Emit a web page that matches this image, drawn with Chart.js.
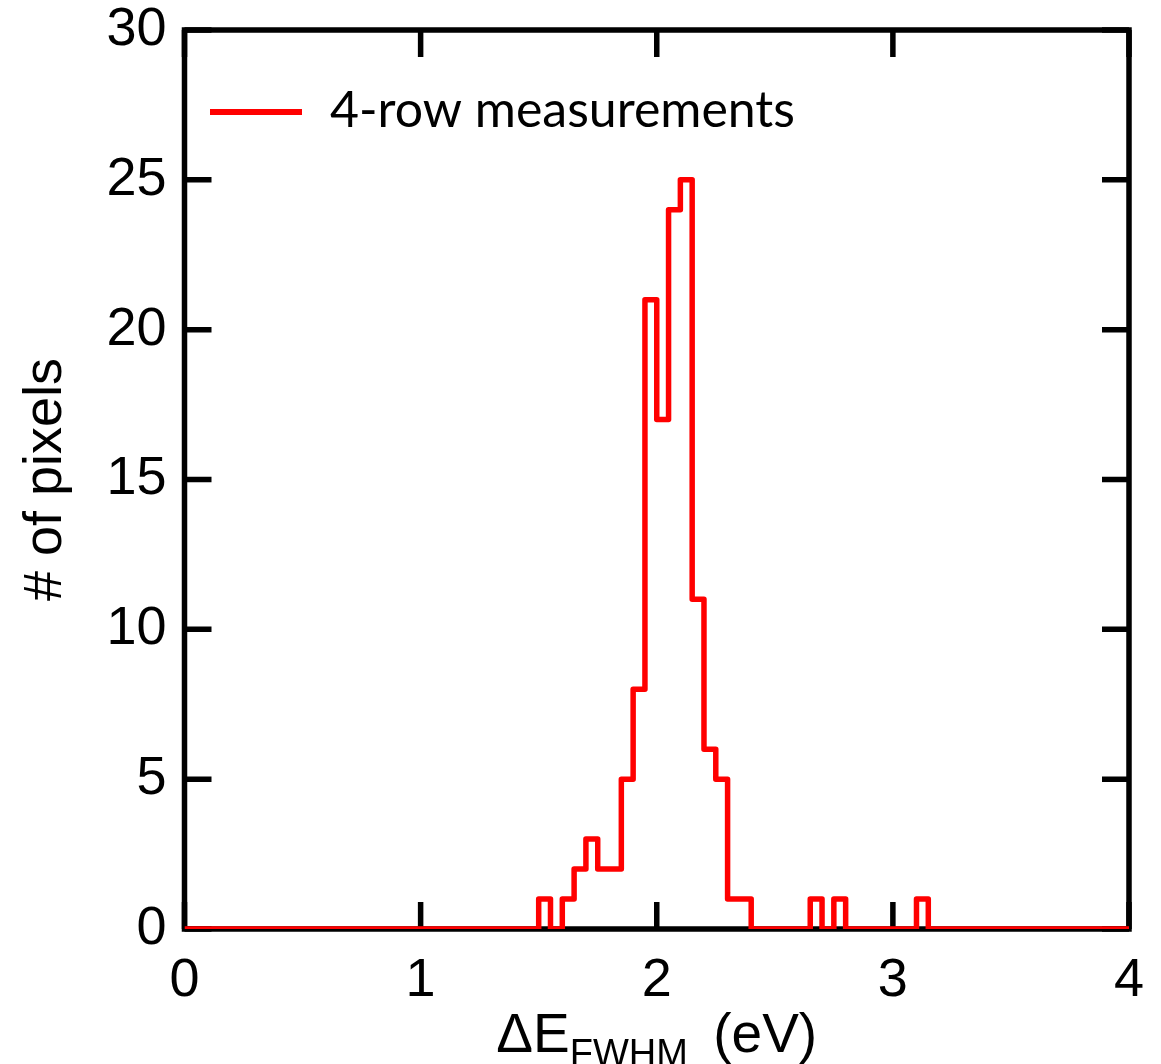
<!DOCTYPE html>
<html>
<head>
<meta charset="utf-8">
<script src="https://cdn.jsdelivr.net/npm/chart.js@4.4.1/dist/chart.umd.min.js"></script>
<style>
  html, body { margin: 0; padding: 0; background: #ffffff; }
  #wrap { width: 1161px; height: 1064px; }
</style>
</head>
<body>
<div id="wrap"><canvas id="c" width="1161" height="1064"></canvas></div>
<script>
// Histogram step points: left edge of each run of equal bins (eV) and the count held from that edge
const binStarts = [0.00, 1.50, 1.55, 1.60, 1.65, 1.70, 1.75, 1.85, 1.90, 1.95, 2.00, 2.05, 2.10, 2.15, 2.20, 2.25, 2.30, 2.40, 2.65, 2.70, 2.75, 2.80, 3.10, 3.15, 4.00];
const pixelCounts = [0, 1, 0, 1, 2, 3, 2, 5, 8, 21, 17, 24, 25, 11, 6, 5, 1, 0, 1, 0, 1, 0, 1, 0, 0];
const seriesLabel = '4-row measurements';
const xTickValues = [0, 1, 2, 3, 4];
const yTickValues = [0, 5, 10, 15, 20, 25, 30];
const yTitle = '# of pixels';
const xTitleMain = 'ΔE';
const xTitleSub = 'FWHM';
const xTitleUnit = ' (eV)';

const RED = '#ff0000';
const FONT = '"Liberation Sans", Arial, sans-serif';

const framePlugin = {
  id: 'frame',
  beforeDatasetsDraw(chart) {
    const {ctx, chartArea: a, scales} = chart;
    ctx.save();
    ctx.strokeStyle = '#000';
    ctx.lineWidth = 5.5;
    ctx.lineCap = 'butt';
    ctx.lineJoin = 'miter';
    ctx.strokeRect(a.left, a.top, a.right - a.left, a.bottom - a.top);
    const tl = 27;
    ctx.beginPath();
    xTickValues.forEach(v => {
      const px = scales.x.getPixelForValue(v);
      ctx.moveTo(px, a.bottom); ctx.lineTo(px, a.bottom - tl);
      ctx.moveTo(px, a.top); ctx.lineTo(px, a.top + tl);
    });
    yTickValues.forEach(v => {
      const py = scales.y.getPixelForValue(v);
      ctx.moveTo(a.left, py); ctx.lineTo(a.left + tl, py);
      ctx.moveTo(a.right, py); ctx.lineTo(a.right - tl, py);
    });
    ctx.stroke();
    ctx.restore();
  },
  afterDraw(chart) {
    const {ctx, chartArea: a} = chart;
    ctx.save();
    // legend
    ctx.strokeStyle = RED;
    ctx.lineWidth = 6;
    ctx.lineCap = 'butt';
    ctx.beginPath();
    ctx.moveTo(210, 112); ctx.lineTo(302, 112);
    ctx.stroke();
    ctx.fillStyle = '#000';
    ctx.font = '50px Lato, "Open Sans", sans-serif';
    ctx.textBaseline = 'alphabetic';
    ctx.textAlign = 'left';
    ctx.fillText(seriesLabel, 330, 127);
    // x title with subscript
    const mainFont = '55px ' + FONT;
    const subFont = '38px ' + FONT;
    ctx.font = mainFont; const w1 = ctx.measureText(xTitleMain).width;
    const w3 = ctx.measureText(xTitleUnit).width;
    ctx.font = subFont; const w2 = ctx.measureText(xTitleSub).width;
    const gap = 10;
    const total = w1 + w2 + gap + w3;
    let x0 = (a.left + a.right) / 2 - total / 2;
    ctx.font = mainFont; ctx.fillText(xTitleMain, x0, 1052);
    ctx.font = subFont; ctx.fillText(xTitleSub, x0 + w1, 1066);
    ctx.font = mainFont; ctx.fillText(xTitleUnit, x0 + w1 + w2 + gap, 1052);
    ctx.restore();
  }
};

const points = binStarts.map((x, i) => ({x: x, y: pixelCounts[i]}));

new Chart(document.getElementById('c'), {
  type: 'line',
  data: {
    datasets: [{
      label: seriesLabel,
      data: points,
      stepped: true,
      borderColor: RED,
      backgroundColor: RED,
      borderWidth: 5.5,
      borderJoinStyle: 'round',
      pointRadius: 0,
      fill: false
    }]
  },
  options: {
    responsive: false,
    animation: false,
    events: [],
    layout: { padding: { top: 30, right: 32, left: 0, bottom: 0 } },
    plugins: { legend: { display: false }, tooltip: { enabled: false } },
    scales: {
      x: {
        type: 'linear', min: 0, max: 4,
        afterBuildTicks(s) { s.ticks = xTickValues.map(v => ({value: v})); },
        afterFit(s) { s.height = 135; s.paddingLeft = 0; s.paddingRight = 0; },
        grid: { display: false },
        border: { display: false },
        ticks: { color: '#000', font: { family: FONT, size: 54, lineHeight: 1 }, padding: 17, maxRotation: 0 }
      },
      y: {
        type: 'linear', min: 0, max: 30,
        afterBuildTicks(s) { s.ticks = yTickValues.map(v => ({value: v})); },
        afterFit(s) { s.width = 184.5; s.paddingTop = 0; s.paddingBottom = 0; },
        grid: { display: false },
        border: { display: false },
        ticks: { color: '#000', font: { family: FONT, size: 54, lineHeight: 1 }, padding: 10 },
        title: { display: true, text: yTitle, color: '#000', font: { family: FONT, size: 54, lineHeight: 1.2 }, padding: { top: 14, bottom: 0 } }
      }
    }
  },
  plugins: [framePlugin]
});
</script>
</body>
</html>
